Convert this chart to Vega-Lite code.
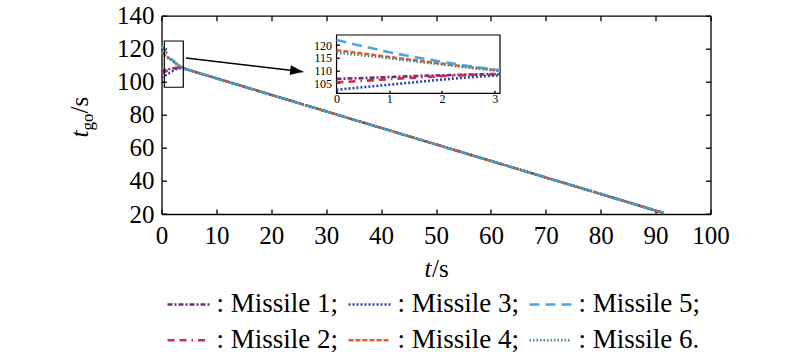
{
  "$schema": "https://vega.github.io/schema/vega-lite/v6.json",
  "autosize": {"type": "none"},
  "padding": {"left": 161.5, "top": 15.7, "right": 89.5, "bottom": 141},
  "width": 549,
  "height": 198.3,
  "config": {
    "view": {"stroke": null},
    "font": "Liberation Serif",
    "axis": {"grid": false, "domainColor": "black", "domainWidth": 1.3, "tickColor": "black", "tickWidth": 1.3, "labelColor": "black", "titleColor": "black", "labelFont": "Liberation Serif", "titleFont": "Liberation Serif", "titleFontWeight": "normal", "labelFlush": false, "labelOverlap": false}
  },
  "datasets": {
    "tgo": [
      {"m": "Missile 1", "t": 0, "v": 106.7}, {"m": "Missile 1", "t": 0.5, "v": 107.0}, {"m": "Missile 1", "t": 1, "v": 107.4}, {"m": "Missile 1", "t": 1.5, "v": 107.8}, {"m": "Missile 1", "t": 2, "v": 108.1}, {"m": "Missile 1", "t": 2.5, "v": 108.4}, {"m": "Missile 1", "t": 3, "v": 108.6}, {"m": "Missile 1", "t": 3.1, "v": 108.6}, {"m": "Missile 1", "t": 3.5, "v": 108.5}, {"m": "Missile 1", "t": 4, "v": 108.1}, {"m": "Missile 1", "t": 5, "v": 107.1}, {"m": "Missile 1", "t": 6, "v": 106.1}, {"m": "Missile 1", "t": 20, "v": 92.1}, {"m": "Missile 1", "t": 40, "v": 72.1}, {"m": "Missile 1", "t": 60, "v": 52.1}, {"m": "Missile 1", "t": 80, "v": 32.1}, {"m": "Missile 1", "t": 91.5, "v": 20.6},
      {"m": "Missile 2", "t": 0, "v": 105.3}, {"m": "Missile 2", "t": 0.5, "v": 105.9}, {"m": "Missile 2", "t": 1, "v": 106.6}, {"m": "Missile 2", "t": 1.5, "v": 107.2}, {"m": "Missile 2", "t": 2, "v": 107.8}, {"m": "Missile 2", "t": 2.5, "v": 108.2}, {"m": "Missile 2", "t": 3, "v": 108.5}, {"m": "Missile 2", "t": 3.1, "v": 108.5}, {"m": "Missile 2", "t": 3.5, "v": 108.4}, {"m": "Missile 2", "t": 4, "v": 108.1}, {"m": "Missile 2", "t": 5, "v": 107.1}, {"m": "Missile 2", "t": 6, "v": 106.1}, {"m": "Missile 2", "t": 20, "v": 92.1}, {"m": "Missile 2", "t": 40, "v": 72.1}, {"m": "Missile 2", "t": 60, "v": 52.1}, {"m": "Missile 2", "t": 80, "v": 32.1}, {"m": "Missile 2", "t": 91.5, "v": 20.6},
      {"m": "Missile 3", "t": 0, "v": 102.4}, {"m": "Missile 3", "t": 0.5, "v": 103.4}, {"m": "Missile 3", "t": 1, "v": 104.4}, {"m": "Missile 3", "t": 1.5, "v": 105.4}, {"m": "Missile 3", "t": 2, "v": 106.4}, {"m": "Missile 3", "t": 2.5, "v": 107.3}, {"m": "Missile 3", "t": 3, "v": 108.0}, {"m": "Missile 3", "t": 3.1, "v": 108.05}, {"m": "Missile 3", "t": 3.5, "v": 108.3}, {"m": "Missile 3", "t": 4, "v": 108.0}, {"m": "Missile 3", "t": 5, "v": 107.1}, {"m": "Missile 3", "t": 6, "v": 106.1}, {"m": "Missile 3", "t": 20, "v": 92.1}, {"m": "Missile 3", "t": 40, "v": 72.1}, {"m": "Missile 3", "t": 60, "v": 52.1}, {"m": "Missile 3", "t": 80, "v": 32.1}, {"m": "Missile 3", "t": 91.5, "v": 20.6},
      {"m": "Missile 4", "t": 0, "v": 118.0}, {"m": "Missile 4", "t": 0.5, "v": 116.7}, {"m": "Missile 4", "t": 1, "v": 115.3}, {"m": "Missile 4", "t": 1.5, "v": 114.0}, {"m": "Missile 4", "t": 2, "v": 112.7}, {"m": "Missile 4", "t": 2.5, "v": 111.4}, {"m": "Missile 4", "t": 3, "v": 110.2}, {"m": "Missile 4", "t": 3.1, "v": 110.0}, {"m": "Missile 4", "t": 3.5, "v": 109.2}, {"m": "Missile 4", "t": 4, "v": 108.4}, {"m": "Missile 4", "t": 5, "v": 107.1}, {"m": "Missile 4", "t": 6, "v": 106.1}, {"m": "Missile 4", "t": 20, "v": 92.1}, {"m": "Missile 4", "t": 40, "v": 72.1}, {"m": "Missile 4", "t": 60, "v": 52.1}, {"m": "Missile 4", "t": 80, "v": 32.1}, {"m": "Missile 4", "t": 91.5, "v": 20.6},
      {"m": "Missile 5", "t": 0, "v": 122.0}, {"m": "Missile 5", "t": 0.5, "v": 119.6}, {"m": "Missile 5", "t": 1, "v": 117.2}, {"m": "Missile 5", "t": 1.5, "v": 115.2}, {"m": "Missile 5", "t": 2, "v": 113.4}, {"m": "Missile 5", "t": 2.5, "v": 111.8}, {"m": "Missile 5", "t": 3, "v": 110.4}, {"m": "Missile 5", "t": 3.1, "v": 110.2}, {"m": "Missile 5", "t": 3.5, "v": 109.3}, {"m": "Missile 5", "t": 4, "v": 108.4}, {"m": "Missile 5", "t": 5, "v": 107.1}, {"m": "Missile 5", "t": 6, "v": 106.1}, {"m": "Missile 5", "t": 20, "v": 92.1}, {"m": "Missile 5", "t": 40, "v": 72.1}, {"m": "Missile 5", "t": 60, "v": 52.1}, {"m": "Missile 5", "t": 80, "v": 32.1}, {"m": "Missile 5", "t": 91.5, "v": 20.6},
      {"m": "Missile 6", "t": 0, "v": 117.0}, {"m": "Missile 6", "t": 0.5, "v": 116.0}, {"m": "Missile 6", "t": 1, "v": 114.8}, {"m": "Missile 6", "t": 1.5, "v": 113.6}, {"m": "Missile 6", "t": 2, "v": 112.4}, {"m": "Missile 6", "t": 2.5, "v": 111.1}, {"m": "Missile 6", "t": 3, "v": 110.0}, {"m": "Missile 6", "t": 3.1, "v": 109.8}, {"m": "Missile 6", "t": 3.5, "v": 109.0}, {"m": "Missile 6", "t": 4, "v": 108.2}, {"m": "Missile 6", "t": 5, "v": 107.1}, {"m": "Missile 6", "t": 6, "v": 106.1}, {"m": "Missile 6", "t": 20, "v": 92.1}, {"m": "Missile 6", "t": 40, "v": 72.1}, {"m": "Missile 6", "t": 60, "v": 52.1}, {"m": "Missile 6", "t": 80, "v": 32.1}, {"m": "Missile 6", "t": 91.5, "v": 20.6}
    ],
    "boxes": [{"t1": 0.51, "t2": 3.97, "v1": 124.7, "v2": 96.7}, {"t1": 31.88, "t2": 61.66, "v1": 128.32, "v2": 93.04}],
    "arrow": [{"t1": 4.46, "v1": 114.4, "t2": 25.8, "v2": 106.1}]
  },
  "layer": [
    {
      "layer": [
        {
          "data": {"name": "tgo"},
          "mark": {"type": "line", "strokeWidth": 2.4},
          "encoding": {
            "x": {"field": "t", "type": "quantitative", "scale": {"domain": [0, 100], "nice": false, "zero": false},
              "axis": {"orient": "bottom", "values": [0, 10, 20, 30, 40, 50, 60, 70, 80, 90, 100], "tickSize": -5, "labelFontSize": 25, "labelPadding": 14, "title": "t", "titleFontSize": 25, "titleFontStyle": "italic", "titleX": 269.5, "titleY": 62, "titleAlign": "right", "titleBaseline": "alphabetic", "titleAngle": 0}},
            "y": {"field": "v", "type": "quantitative", "scale": {"domain": [20, 140], "nice": false, "zero": false},
              "axis": {"orient": "left", "values": [20, 40, 60, 80, 100, 120, 140], "tickSize": -5, "labelFontSize": 25, "labelPadding": 12.5, "title": "t", "titleFontSize": 25, "titleFontStyle": "italic", "titleAngle": -90, "titleX": -74.5, "titleY": 121.3, "titleAlign": "left", "titleBaseline": "alphabetic"}},
            "color": {"field": "m", "type": "nominal",
              "scale": {"domain": ["Missile 1", "Missile 3", "Missile 5", "Missile 2", "Missile 4", "Missile 6"], "range": ["#6B2D7E", "#2E46A0", "#4BA6D9", "#D42A48", "#F0582C", "#3B8F8F"]},
              "legend": {"orient": "none", "legendX": 1, "legendY": 275, "direction": "horizontal", "columns": 3, "title": null, "symbolType": "M-1,0L3.94,0", "symbolSize": 289, "symbolStrokeWidth": 2.5, "labelFont": "Liberation Serif", "labelFontSize": 27, "labelColor": "black", "labelOffset": 27, "labelLimit": 400, "columnPadding": 5, "rowPadding": 8, "padding": 0, "labelExpr": "': ' + datum.label + (datum.label == 'Missile 6' ? '.' : ';')"}},
            "strokeDash": {"field": "m", "type": "nominal",
              "scale": {"domain": ["Missile 1", "Missile 3", "Missile 5", "Missile 2", "Missile 4", "Missile 6"], "range": [[5, 2, 2, 2], [2, 2], [10, 6], [7, 5, 7, 5, 1.5, 5], [5, 2], [1.5, 2]]},
              "legend": {"orient": "none", "legendX": 1, "legendY": 275, "direction": "horizontal", "columns": 3, "title": null, "symbolType": "M-1,0L3.94,0", "symbolSize": 289, "symbolStrokeWidth": 2.5, "labelFont": "Liberation Serif", "labelFontSize": 27, "labelColor": "black", "labelOffset": 27, "labelLimit": 400, "columnPadding": 5, "rowPadding": 8, "padding": 0, "labelExpr": "': ' + datum.label + (datum.label == 'Missile 6' ? '.' : ';')"}}
          }
        },
        {
          "data": {"name": "boxes"},
          "mark": {"type": "rect", "filled": false, "stroke": "black", "strokeWidth": 1.2},
          "encoding": {
            "x": {"field": "t1", "type": "quantitative", "scale": {"domain": [0, 100], "nice": false, "zero": false},
              "axis": {"orient": "top", "values": [0, 10, 20, 30, 40, 50, 60, 70, 80, 90, 100], "tickSize": -5, "labels": false, "title": "/s", "titleFontSize": 25, "titleX": 270, "titleY": 260.3, "titleAlign": "left", "titleBaseline": "alphabetic", "titleAngle": 0}},
            "x2": {"field": "t2"},
            "y": {"field": "v1", "type": "quantitative", "scale": {"domain": [20, 140], "nice": false, "zero": false},
              "axis": {"orient": "right", "values": [20, 40, 60, 80, 100, 120, 140], "tickSize": -5, "labels": false, "title": "go", "titleFontSize": 17, "titleAngle": -90, "titleX": -618.5, "titleY": 114.3, "titleAlign": "left", "titleBaseline": "alphabetic"}},
            "y2": {"field": "v2"}
          }
        },
        {
          "data": {"name": "arrow"},
          "mark": {"type": "rule", "color": "black", "strokeWidth": 1.5},
          "encoding": {
            "x": {"field": "t1", "type": "quantitative", "scale": {"domain": [0, 100], "nice": false, "zero": false}, "axis": null},
            "x2": {"field": "t2"},
            "y": {"field": "v1", "type": "quantitative", "scale": {"domain": [20, 140], "nice": false, "zero": false}, "axis": null},
            "y2": {"field": "v2"}
          }
        },
        {
          "data": {"name": "arrow"},
          "mark": {"type": "point", "shape": "M0,0L-1,-0.38L-1,0.38Z", "filled": true, "color": "black", "opacity": 1, "size": 676, "angle": 6.7},
          "encoding": {
            "x": {"field": "t2", "type": "quantitative", "scale": {"domain": [0, 100], "nice": false, "zero": false}, "axis": null},
            "y": {"field": "v2", "type": "quantitative", "scale": {"domain": [20, 140], "nice": false, "zero": false}, "axis": null}
          }
        }
      ],
      "resolve": {"axis": {"x": "independent", "y": "independent"}}
    },
    {
      "data": {"name": "tgo"},
      "transform": [{"filter": "datum.t <= 3.1"}],
      "mark": {"type": "line", "strokeWidth": 2.6},
      "encoding": {
        "x": {"field": "t", "type": "quantitative", "scale": {"domain": [0, 3.1], "range": [175, 338.5], "nice": false, "zero": false},
          "axis": {"orient": "bottom", "offset": -120.7, "values": [0, 1, 2, 3], "domain": false, "tickSize": -3, "labelFontSize": 12, "labelPadding": 3, "title": null}},
        "y": {"field": "v", "type": "quantitative", "scale": {"domain": [101, 124], "range": [77.6, 19.3], "nice": false, "zero": false},
          "axis": {"orient": "left", "offset": -175, "values": [105, 110, 115, 120], "domain": false, "tickSize": -3, "labelFontSize": 12, "labelPadding": 8, "title": "/s", "titleFontSize": 25, "titleFontStyle": "normal", "titleAngle": -90, "titleX": -249.5, "titleY": 97.3, "titleAlign": "left", "titleBaseline": "alphabetic"}},
        "color": {"field": "m", "type": "nominal", "legend": null},
        "strokeDash": {"field": "m", "type": "nominal", "legend": null}
      }
    }
  ],
  "resolve": {"scale": {"x": "independent", "y": "independent"}}
}
